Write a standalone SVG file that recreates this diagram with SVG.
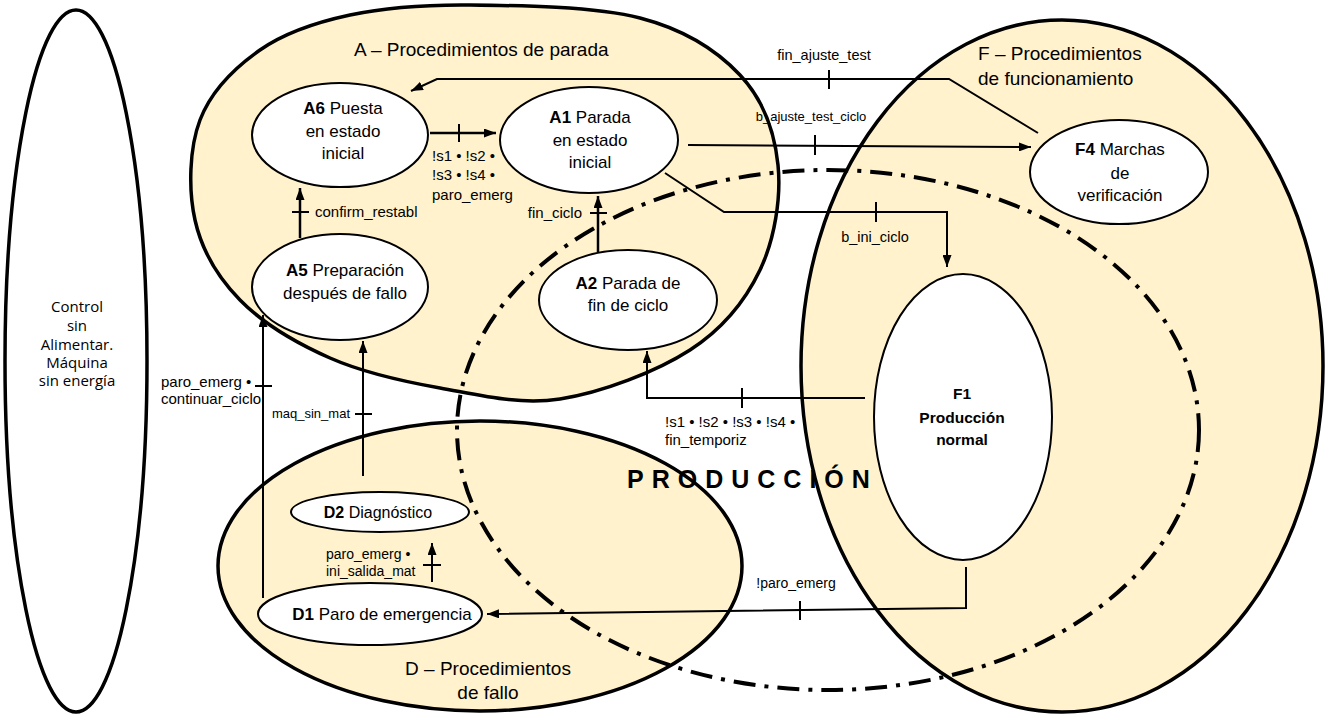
<svg xmlns="http://www.w3.org/2000/svg" width="1326" height="721" viewBox="0 0 1326 721">
<defs>
<style>
.big{fill:#FFF2CC;stroke:#000;stroke-width:3.5}
.node{fill:#fff;stroke:#000;stroke-width:2}
.c{fill:none;stroke:#000;stroke-width:2}
.tk{stroke:#000;stroke-width:2}
.dd{fill:none;stroke:#000;stroke-width:4;stroke-dasharray:22 9 4 9}
text{font-family:"Liberation Sans",Arial,sans-serif;fill:#000}
.g{font-size:19px}
.n{font-size:17px;text-anchor:middle}
.s{font-size:15px}
.b{font-weight:bold}
</style>
<marker id="ah" viewBox="0 0 12 9" refX="12" refY="4.5" markerWidth="12" markerHeight="9" markerUnits="userSpaceOnUse" orient="auto"><path d="M0,0 L12,4.5 L0,9 z" fill="#000"/></marker>
</defs>
<rect width="1326" height="721" fill="#fff"/>

<g id="control">
<ellipse cx="76" cy="361" rx="71" ry="351" fill="#fff" stroke="#000" stroke-width="3.5"/>
<text x="77" text-anchor="middle" style="font-family:'Open Sans',sans-serif;font-size:15px"><tspan x="77" y="312">Control</tspan><tspan x="77" y="331">sin</tspan><tspan x="77" y="350">Alimentar.</tspan><tspan x="77" y="368">Máquina</tspan><tspan x="77" y="386">sin energía</tspan></text>
</g>

<g id="groupA">
<path class="big" d="M470,5 C518.3,5.5 595,6.3 640,18 C685,29.7 717,50.5 740,75 C763,99.5 774.7,132.5 778,165 C781.3,197.5 774.7,239.2 760,270 C745.3,300.8 723.3,328.5 690,350 C656.7,371.5 601.7,392.7 560,399 C518.3,405.3 478.3,394.8 440,388 C401.7,381.2 363.3,372.7 330,358 C296.7,343.3 262.5,323 240,300 C217.5,277 201.7,250 195,220 C188.3,190 189.2,148.3 200,120 C210.8,91.7 235,67.5 260,50 C285,32.5 315,22.5 350,15 C385,7.5 421.7,4.5 470,5 Z"/>
<text class="g" x="354" y="56">A – Procedimientos de parada</text>
</g>
<g id="groupD">
<ellipse class="big" cx="480" cy="566" rx="262" ry="145"/>
<text class="g" text-anchor="middle"><tspan x="488" y="675">D – Procedimientos</tspan><tspan x="488" y="699">de fallo</tspan></text>
</g>
<g id="groupF">
<ellipse class="big" cx="1062" cy="366" rx="261" ry="346"/>
<text class="g"><tspan x="978" y="60">F – Procedimientos</tspan><tspan x="978" y="85">de funcionamiento</tspan></text>
</g>

<g id="produccion">
<ellipse class="dd" cx="828" cy="430" rx="371" ry="260"/>
<text x="627" y="488" style="font-size:25px;font-weight:bold;letter-spacing:8px">PRODUCCIÓN</text>
</g>

<g id="A6">
<ellipse class="node" cx="340" cy="135" rx="88" ry="52"/>
<text class="n"><tspan x="343" y="114"><tspan class="b">A6</tspan> Puesta</tspan><tspan x="343" y="137">en estado</tspan><tspan x="343" y="159">inicial</tspan></text>
</g>
<g id="A1">
<ellipse class="node" cx="589" cy="140" rx="89" ry="53"/>
<text class="n"><tspan x="590" y="123"><tspan class="b">A1</tspan> Parada</tspan><tspan x="590" y="146">en estado</tspan><tspan x="590" y="168">inicial</tspan></text>
</g>
<g id="A5">
<ellipse class="node" cx="340" cy="287" rx="88" ry="53"/>
<text class="n"><tspan x="345" y="276"><tspan class="b">A5</tspan> Preparación</tspan><tspan x="345" y="299">después de fallo</tspan></text>
</g>
<g id="A2">
<ellipse class="node" cx="628" cy="300" rx="89" ry="50"/>
<text class="n"><tspan x="628" y="289"><tspan class="b">A2</tspan> Parada de</tspan><tspan x="628" y="311">fin de ciclo</tspan></text>
</g>
<g id="F4">
<ellipse class="node" cx="1119" cy="172" rx="89" ry="52"/>
<text class="n"><tspan x="1120" y="155"><tspan class="b">F4</tspan> Marchas</tspan><tspan x="1120" y="179">de</tspan><tspan x="1120" y="201">verificación</tspan></text>
</g>
<g id="F1">
<ellipse class="node" cx="963" cy="417" rx="89" ry="143"/>
<text class="b" text-anchor="middle" style="font-size:15.5px"><tspan x="962" y="399">F1</tspan><tspan x="962" y="423">Producción</tspan><tspan x="962" y="445">normal</tspan></text>
</g>
<g id="D2">
<ellipse class="node" cx="380" cy="512" rx="89" ry="20"/>
<text class="n" style="font-size:16px"><tspan x="378" y="518"><tspan class="b">D2</tspan> Diagnóstico</tspan></text>
</g>
<g id="D1">
<ellipse class="node" cx="370" cy="614" rx="112" ry="31"/>
<text class="n"><tspan x="382" y="620"><tspan class="b">D1</tspan> Paro de emergencia</tspan></text>
</g>

<g id="connectors">
<path class="c" d="M1038,133 L949,79 L437,79 L411,91" marker-end="url(#ah)"/>
<line class="tk" x1="829" y1="70" x2="829" y2="89"/>
<text x="824" y="60" text-anchor="middle" style="font-size:14.5px">fin_ajuste_test</text>

<path class="c" d="M688,145 L1031,147" marker-end="url(#ah)"/>
<line class="tk" x1="815" y1="135" x2="815" y2="155"/>
<text x="811" y="121" text-anchor="middle" style="font-size:13px">b_ajuste_test_ciclo</text>

<path class="c" d="M665,173 L724,212 L947,212 L947,267" marker-end="url(#ah)"/>
<line class="tk" x1="876" y1="202" x2="876" y2="222"/>
<text x="875" y="242" text-anchor="middle" style="font-size:14.5px">b_ini_ciclo</text>

<path class="c" d="M430,133 L496,133" marker-end="url(#ah)" style="stroke-width:2.5"/>
<line class="tk" x1="459" y1="124" x2="459" y2="142"/>
<text class="s"><tspan x="432" y="161">!s1 • !s2 •</tspan><tspan x="432" y="180">!s3 • !s4 •</tspan><tspan x="432" y="200">paro_emerg</tspan></text>

<path class="c" d="M300,238 L300,188" marker-end="url(#ah)" style="stroke-width:2.5"/>
<line class="tk" x1="292" y1="212" x2="309" y2="212"/>
<text class="s" x="315" y="217">confirm_restabl</text>

<path class="c" d="M598,252 L598,196" marker-end="url(#ah)" style="stroke-width:2.5"/>
<line class="tk" x1="590" y1="213" x2="607" y2="213"/>
<text class="s" x="582" y="218" text-anchor="end">fin_ciclo</text>

<path class="c" d="M865,398 L647,398 L647,351" marker-end="url(#ah)"/>
<line class="tk" x1="742" y1="388" x2="742" y2="408"/>
<text class="s"><tspan x="665" y="427">!s1 • !s2 • !s3 • !s4 •</tspan><tspan x="665" y="445">fin_temporiz</tspan></text>

<path class="c" d="M263,598 L263,315" marker-end="url(#ah)"/>
<line class="tk" x1="255" y1="386" x2="272" y2="386"/>
<text class="s"><tspan x="161" y="387">paro_emerg •</tspan><tspan x="161" y="404">continuar_ciclo</tspan></text>

<path class="c" d="M363,476 L363,341" marker-end="url(#ah)"/>
<line class="tk" x1="355" y1="414" x2="372" y2="414"/>
<text x="350" y="418" text-anchor="end" style="font-size:13px">maq_sin_mat</text>

<path class="c" d="M432,582 L432,543" marker-end="url(#ah)"/>
<line class="tk" x1="423" y1="565" x2="441" y2="565"/>
<text style="font-size:14px"><tspan x="326" y="559">paro_emerg •</tspan><tspan x="326" y="576">ini_salida_mat</tspan></text>

<path class="c" d="M966,567 L966,608 L487,614" marker-end="url(#ah)"/>
<line class="tk" x1="800" y1="601" x2="800" y2="620"/>
<text x="796" y="588" text-anchor="middle" style="font-size:14px">!paro_emerg</text>
</g>
</svg>
